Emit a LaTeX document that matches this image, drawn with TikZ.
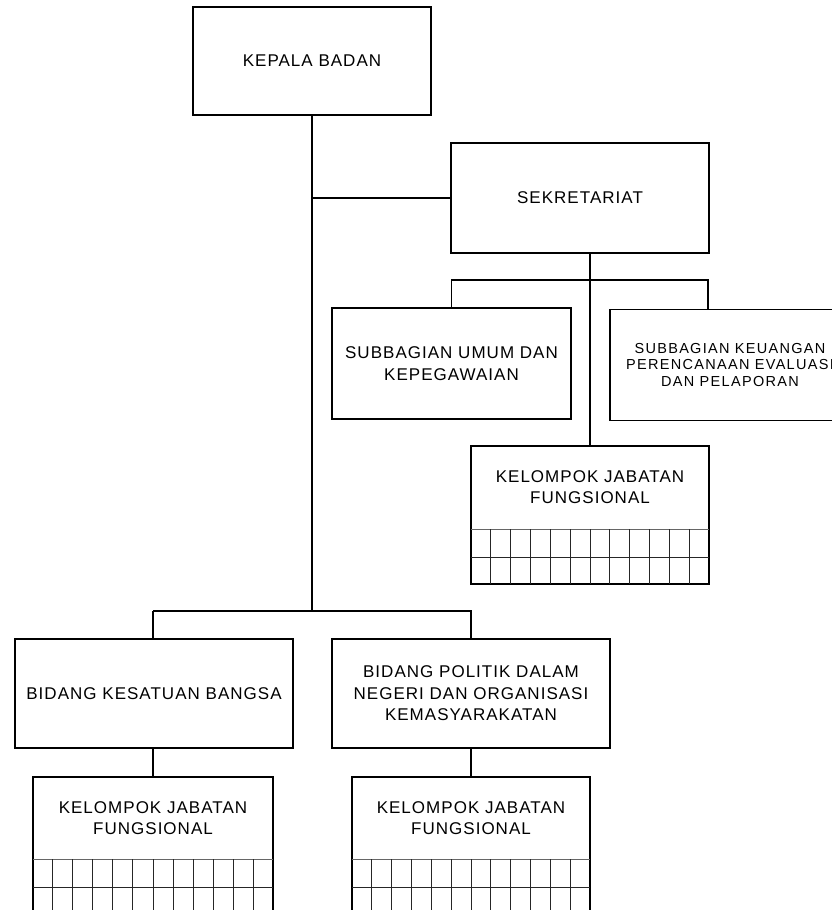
\documentclass[tikz,border=0pt]{standalone}
\usepackage{fontspec}
\setmainfont{Liberation Sans}[LetterSpace=6]
\usetikzlibrary{calc}
\tikzset{
  unit/.style={draw, line width=1.6pt, inner sep=2pt, align=center,
    font=\fontsize{17}{21.5}\selectfont},
  small/.style={font=\fontsize{14.5}{16.5}\selectfont\addfontfeature{LetterSpace=9}},
  label/.style={inner sep=2pt, align=center, font=\fontsize{17}{21}\selectfont},
  link/.style={line width=1.6pt},
  cell/.style={line width=1pt, black!85},
}
% text part of a "kelompok jabatan fungsional" box, with its grid of 12 x 2 cells below
\newcommand\cellgrid[1]{%
  \draw[link] (#1.north west) rectangle ($(#1.south east)+(0,55)$);
  \draw[cell, black!60] (#1.south west) -- (#1.south east);
  \draw[cell] ($(#1.south west)+(0,28)$) -- ($(#1.south east)+(0,28)$);
  \foreach \i in {1,...,11}
    \draw[cell] ($(#1.south west)!\i/12!(#1.south east)$) -- ++(0,55);
}
\begin{document}
\begin{tikzpicture}[x=1pt,y=-1pt]
\useasboundingbox (0,0) rectangle (832,910);
\clip (0,0) rectangle (832,910);
\fill[white] (0,0) rectangle (832,910);

% boxes
\node[unit, minimum width=238, minimum height=108] (kepala) at (312,61) {KEPALA BADAN};
\node[unit, minimum width=258, minimum height=110] (sekr) at (580,198) {SEKRETARIAT};
\node[unit, minimum width=239, minimum height=111] (umum) at (451.5,363.5)
  {SUBBAGIAN UMUM DAN\\KEPEGAWAIAN};
\node[unit, small, minimum width=240, minimum height=111] (keu) at (730,365)
  {SUBBAGIAN KEUANGAN\\PERENCANAAN EVALUASI\\DAN PELAPORAN};
\node[label, minimum width=238, minimum height=83] (kjfS) at (590,487.5)
  {KELOMPOK JABATAN\\FUNGSIONAL};
\node[unit, minimum width=278, minimum height=109] (kesatuan) at (154,693.5)
  {BIDANG KESATUAN BANGSA};
\node[unit, minimum width=278, minimum height=109] (politik) at (471,693.5)
  {BIDANG POLITIK DALAM\\NEGERI DAN ORGANISASI\\KEMASYARAKATAN};
\node[label, minimum width=240, minimum height=82] (kjfA) at (153,818)
  {KELOMPOK JABATAN\\FUNGSIONAL};
\node[label, minimum width=238, minimum height=82] (kjfB) at (471,818)
  {KELOMPOK JABATAN\\FUNGSIONAL};

\cellgrid{kjfS}
\cellgrid{kjfA}
\cellgrid{kjfB}

% connectors
\coordinate (keuDrop) at ($(keu.north west)+(99,0)$);
\draw[link] (kepala.south) -- (kepala.south |- 0,611);
\draw[link] (kepala.south |- sekr.west) -- (sekr.west);
\draw[link] (sekr.south -| kjfS.north) -- (kjfS.north);
\draw[link] (umum.north) -- ++(0,-27) -| (keuDrop);
\draw[link] (kjfA.north |- 0,611) -- (kjfA.north |- kesatuan.north);
\draw[link] (kjfA.north |- 0,611) -| (politik.north);
\draw[link] (kesatuan.south -| kjfA.north) -- (kjfA.north);
\draw[link] (politik.south) -- (kjfB.north);
\end{tikzpicture}
\end{document}
